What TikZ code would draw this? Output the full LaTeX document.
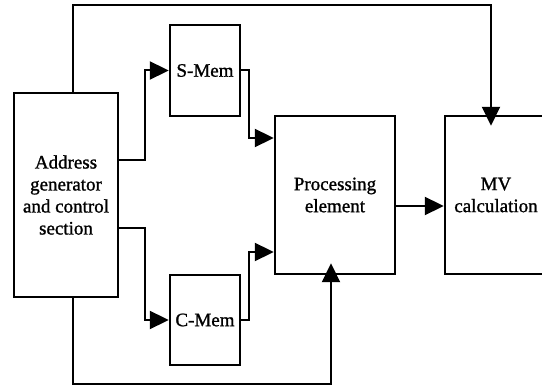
\documentclass[tikz,border=0pt]{standalone}
\usepackage{fontspec}
\setmainfont{Liberation Serif}
\newfontfamily\blockfont{Liberation Serif}[FakeBold=1.2]
\usetikzlibrary{arrows.meta,positioning,calc}

\begin{document}
\begin{tikzpicture}[
  x=1pt,y=-1pt,
  blockbox/.style={draw,line width=2.4pt,inner sep=0pt,align=center,
    font=\blockfont\fontsize{19}{22}\selectfont},
  sigline/.style={line width=2pt,-{Triangle[length=19pt,width=18pt]}}
]
  \path[use as bounding box] (0,0) rectangle (542,387);
  \clip (0,0) rectangle (542,387);
  % Blocks
  \node[blockbox,minimum width=104pt,minimum height=204pt] (addr) at (66,195) {Address\\generator\\and control\\section};
  \node[blockbox,minimum width=70pt,minimum height=91pt] (smem) at (205,70.5) {S-Mem};
  \node[blockbox,minimum width=70pt,minimum height=90pt] (cmem) at (205,320) {C-Mem};
  \node[blockbox,minimum width=120pt,minimum height=158pt] (pe) at (335,195) {Processing\\element};
  \node[blockbox,minimum width=102pt,minimum height=158pt] (mv) at (496,195) {MV\\calculation};
  % Tap points
  \coordinate (adrtop) at ([xshift=7pt]addr.north);
  \coordinate (adrbot) at ([xshift=7pt]addr.south);
  \coordinate (mvin) at ([xshift=-5pt]mv.north);
  \coordinate (pein) at ([xshift=-4pt]pe.south);
  % Connections
  \draw[sigline] ([yshift=35pt]addr.east) -- ++(26,0) |- (smem.west);
  \draw[sigline] ([yshift=-33pt]addr.east) -- ++(26,0) |- (cmem.west);
  \draw[sigline] (smem.east) -- ++(8,0) |- ([yshift=57pt]pe.west);
  \draw[sigline] (cmem.east) -- ++(8,0) |- ([yshift=-57pt]pe.west);
  \draw[sigline] ([yshift=-11pt]pe.east) -- ([yshift=-11pt]mv.west);
  \draw[sigline,shorten >=-11pt] (adrtop) -- ++(0,-87) -| (mvin);
  \draw[sigline,shorten >=-12pt] (adrbot) -- ++(0,86) -| (pein);
\end{tikzpicture}
\end{document}
